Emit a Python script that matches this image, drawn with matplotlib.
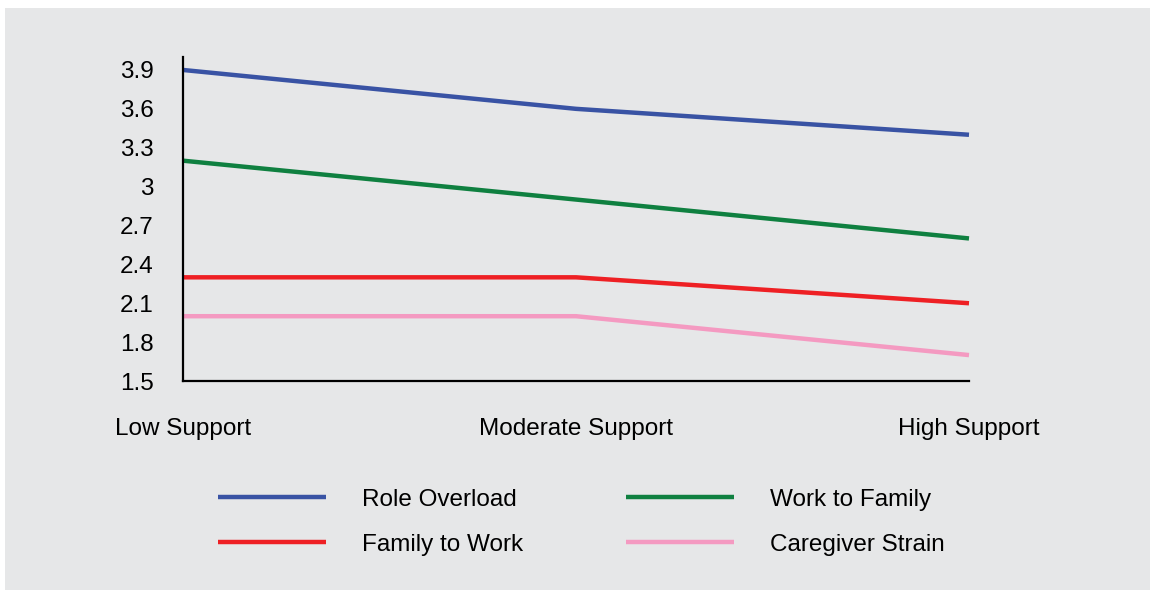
import matplotlib
matplotlib.use('Agg')
import matplotlib.pyplot as plt
from matplotlib.patches import Rectangle

plt.rcParams['font.family'] = ['Liberation Sans', 'DejaVu Sans']

# === Data ===
categories = ['Low Support', 'Moderate Support', 'High Support']
role_overload = [3.9, 3.6, 3.4]
work_to_family = [3.2, 2.9, 2.6]
family_to_work = [2.3, 2.3, 2.1]
caregiver_strain = [2.0, 2.0, 1.7]
y_ticks = [1.5, 1.8, 2.1, 2.4, 2.7, 3.0, 3.3, 3.6, 3.9]
y_tick_labels = ['1.5', '1.8', '2.1', '2.4', '2.7', '3', '3.3', '3.6', '3.9']

series = [
    ('Role Overload', role_overload, '#3953a4'),
    ('Work to Family', work_to_family, '#0f8040'),
    ('Family to Work', family_to_work, '#ee2024'),
    ('Caregiver Strain', caregiver_strain, '#f49ac1'),
]

# === Figure ===
fig = plt.figure(figsize=(11.54, 5.95), dpi=100, facecolor='white')
bg = '#e6e7e8'
fig.add_artist(Rectangle((5 / 1154, 1 - 590 / 595), 1145 / 1154, 582 / 595,
                         transform=fig.transFigure, facecolor=bg,
                         edgecolor='none', zorder=-10))

ax = fig.add_axes([183 / 1154, 1 - 381 / 595, 786 / 1154, 324 / 595])
ax.set_facecolor('none')
ax.set_zorder(5)

x = range(len(categories))
handles = {}
for name, vals, color in series:
    h, = ax.plot(x, vals, color=color, linewidth=3.2, solid_capstyle='butt', clip_on=False)
    handles[name] = h

ax.set_xlim(0, 2)
ax.set_ylim(1.5, 4.0)
ax.set_yticks(y_ticks)
ax.set_yticklabels(y_tick_labels)
ax.set_xticks(list(x))
ax.set_xticklabels(categories)
ax.tick_params(axis='y', length=0, pad=21, labelsize=17.5)
ax.tick_params(axis='x', length=0, pad=27, labelsize=17.5)

for s in ['top', 'right']:
    ax.spines[s].set_visible(False)
for s in ['left', 'bottom']:
    ax.spines[s].set_linewidth(1.6)
    ax.spines[s].set_color('black')

# legend order: row-wise Role Overload / Work to Family, Family to Work / Caregiver Strain
order = ['Role Overload', 'Family to Work', 'Work to Family', 'Caregiver Strain']
leg = fig.legend([handles[n] for n in order], order, ncol=2,
                 loc='upper left', bbox_to_anchor=(196 / 1154, 1 - 467 / 595),
                 frameon=False, fontsize=17.5, handlelength=4.45, handletextpad=1.5,
                 columnspacing=4.2, labelspacing=0.93)

fig.savefig('out.png', dpi=100, facecolor='white')
